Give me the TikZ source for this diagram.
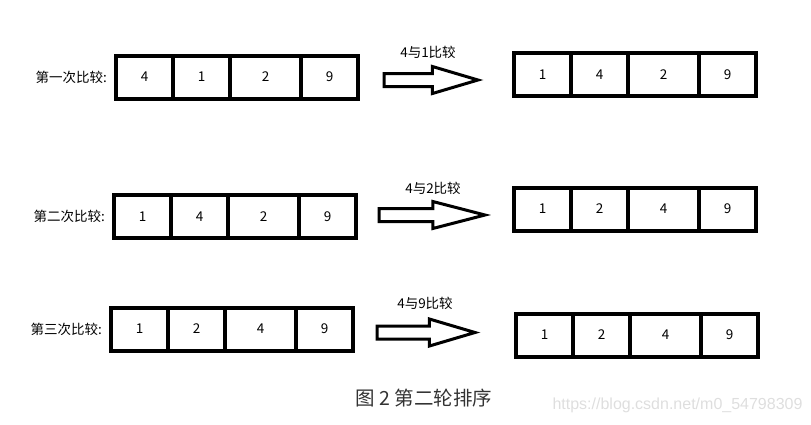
\documentclass[tikz,border=0pt]{standalone}
\usepackage{fontspec}
\setmainfont{Noto Sans CJK SC}
\newfontfamily\wmfont{Liberation Sans}
\usetikzlibrary{positioning,shapes.arrows}

\begin{document}
\begin{tikzpicture}[x=1pt, y=-1pt,
    cell/.style = {draw, line width=4pt, minimum width=57pt, minimum height=43pt,
                   inner sep=0pt, outer sep=0pt, font=\fontsize{13.5}{14}\selectfont},
    wide/.style = {cell, minimum width=71pt},
    tag/.style = {inner sep=0pt, font=\fontsize{13.5}{14}\selectfont},
    fat/.style = {draw, single arrow, line width=3pt, inner sep=0pt, inner ysep=5pt,
                  single arrow head extend=7pt, single arrow tip angle=33,
                  anchor=tail, outer sep=0pt}]
    \useasboundingbox (0,0) rectangle (811,424);

    % first comparison
    \node[cell] (s11) at (144.5,77) {4};
    \node[cell] (s12) [right=0pt of s11] {1};
    \node[wide] (s13) [right=0pt of s12] {2};
    \node[cell] (s14) [right=0pt of s13] {9};
    \node[tag] (l1) [left=9pt of s11] {第一次比较:};
    \node[fat, minimum height=94pt] (a1) at (384,80) {};
    \node[tag] (t1) at (428,52) {4与1比较};
    \node[cell] (e11) at (542.5,74.5) {1};
    \node[cell] (e12) [right=0pt of e11] {4};
    \node[wide] (e13) [right=0pt of e12] {2};
    \node[cell] (e14) [right=0pt of e13] {9};

    % second comparison
    \node[cell] (s21) at (142.5,216.5) {1};
    \node[cell] (s22) [right=0pt of s21] {4};
    \node[wide] (s23) [right=0pt of s22] {2};
    \node[cell] (s24) [right=0pt of s23] {9};
    \node[tag] (l2) [left=9pt of s21] {第二次比较:};
    \node[fat, minimum height=106pt, single arrow tip angle=29] (a2) at (379,215) {};
    \node[tag] (t2) at (433,188) {4与2比较};
    \node[cell] (e21) at (542.5,209) {1};
    \node[cell] (e22) [right=0pt of e21] {2};
    \node[wide] (e23) [right=0pt of e22] {4};
    \node[cell] (e24) [right=0pt of e23] {9};

    % third comparison
    \node[cell] (s31) at (139.5,329) {1};
    \node[cell] (s32) [right=0pt of s31] {2};
    \node[wide] (s33) [right=0pt of s32] {4};
    \node[cell] (s34) [right=0pt of s33] {9};
    \node[tag] (l3) [left=9pt of s31] {第三次比较:};
    \node[fat, minimum height=98pt] (a3) at (377,332.5) {};
    \node[tag] (t3) at (425,303) {4与9比较};
    \node[cell] (e31) at (544.5,335) {1};
    \node[cell] (e32) [right=0pt of e31] {2};
    \node[wide] (e33) [right=0pt of e32] {4};
    \node[cell] (e34) [right=0pt of e33] {9};

    % caption
    \node[text=black!80, font=\fontsize{19.5}{21}\selectfont] (cap) at (424,398) {图 2 第二轮排序};
    \node[text=black!13, font=\wmfont\fontsize{16}{18}\selectfont] (wm) at (677.5,405) {https://blog.csdn.net/m0\_54798309};
\end{tikzpicture}
\end{document}
